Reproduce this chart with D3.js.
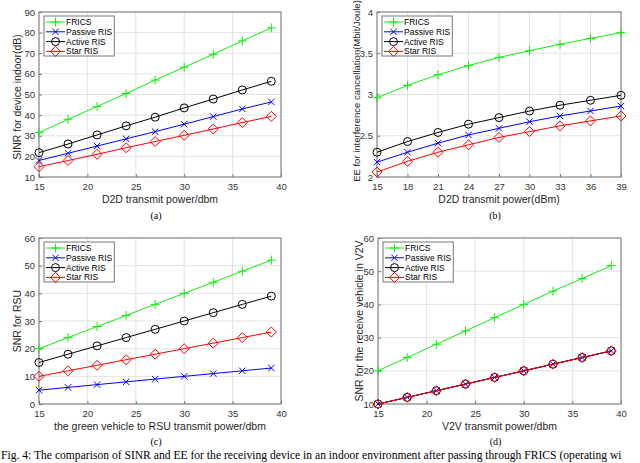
<!DOCTYPE html>
<html lang="en">
<head>
<meta charset="utf-8">
<title>FRICS comparison</title>
<style>
  body { margin: 0; background: #fff; }
  svg { display: block; font-family: "Liberation Sans", Arial, sans-serif; }
  .tick text { font-size: 9.5px; fill: #333; }
  .grid line { stroke: #e3e3e3; stroke-width: 1; }
  .axlabel { font-size: 10.5px; fill: #262626; }
  .sub { font-family: "Liberation Serif", "Times New Roman", serif; font-size: 10px; }
  .caption { font-family: "Liberation Serif", "Times New Roman", serif; font-size: 11.6px; }
  .legend text { font-size: 8.5px; fill: #000; }
</style>
</head>
<body>
<div id="chart"></div>
<script src="https://d3js.org/d3.v7.min.js"></script>
<script>
var seriesNames = ["FRICS", "Passive RIS", "Active RIS", "Star RIS"];
var seriesColors = ["#11ee11", "#0000ff", "#000000", "#ff0000"];
var seriesMarkers = ["plus", "cross", "circle", "diamond"];

// x values (same in all four panels)
var xPower = [15, 18, 21, 24, 27, 30, 33, 36, 39];

// (a) SINR indoor
var aFrics   = [31.5, 38, 44.2, 50.5, 57, 63.2, 69.5, 76, 82.3];
var aPassive = [18, 21.5, 25, 28.5, 32, 35.6, 39.3, 43, 46.4];
var aActive  = [21.8, 26, 30.4, 34.8, 39, 43.5, 47.8, 52.2, 56.4];
var aStar    = [15, 18, 21, 24.2, 27.2, 30.2, 33.3, 36.4, 39.4];

// (b) EE
var bFrics   = [2.96, 3.11, 3.24, 3.35, 3.45, 3.53, 3.61, 3.68, 3.75];
var bPassive = [2.18, 2.30, 2.41, 2.51, 2.59, 2.67, 2.74, 2.80, 2.86];
var bActive  = [2.30, 2.43, 2.54, 2.64, 2.72, 2.80, 2.87, 2.93, 2.99];
var bStar    = [2.06, 2.19, 2.30, 2.39, 2.48, 2.55, 2.62, 2.68, 2.74];

// (c) SNR for RSU
var cFrics   = [20, 24, 28, 32, 36, 40, 44, 48, 52];
var cPassive = [5, 6, 7, 8, 9, 10, 11, 12, 13];
var cActive  = [15, 18, 21, 24, 27, 30, 33, 36, 39];
var cStar    = [10, 12, 14, 16, 18, 20, 22, 24, 26];

// (d) SNR in V2V
var dFrics   = [20, 24, 28, 32, 36, 40, 44, 47.8, 51.7];
var dPassive = [10, 12, 14, 16, 18, 20, 22, 24, 26];
var dActive  = [10, 12, 14, 16, 18, 20, 22, 24, 26];
var dStar    = [10, 12, 14, 16, 18, 20, 22, 24, 26];

var xTicksA = [15, 20, 25, 30, 35, 40];
var xTicksB = [15, 18, 21, 24, 27, 30, 33, 36, 39];
var yTicksA = [10, 20, 30, 40, 50, 60, 70, 80, 90];
var yTicksB = [2, 2.5, 3, 3.5, 4];
var yTicksC = [0, 10, 20, 30, 40, 50, 60];
var yTicksD = [10, 20, 30, 40, 50, 60];

var W = 640, H = 463;
var svg = d3.select("#chart").append("svg").attr("width", W).attr("height", H);

var panels = [
  { box: [39, 12, 281, 177], xDom: [15, 40], yDom: [10, 90], xt: xTicksA, yt: yTicksA,
    data: [aFrics, aPassive, aActive, aStar], ylab: "SINR for device indoor(dB)",
    xlab: "D2D transmit power/dbm", ylx: 17, yly: 97, ylf: 10.5, sub: "(a)", subY: 219 },
  { box: [377, 12, 621, 177], xDom: [15, 39], yDom: [2, 4], xt: xTicksB, yt: yTicksB,
    data: [bFrics, bPassive, bActive, bStar], ylab: "EE for interference cancellation(Mbit/Joule)",
    xlab: "D2D transmit power(dBm)", ylx: 357, yly: 91, ylf: 9.5, sub: "(b)", subY: 219 },
  { box: [39, 238, 281, 404], xDom: [15, 40], yDom: [0, 60], xt: xTicksA, yt: yTicksC,
    data: [cFrics, cPassive, cActive, cStar], ylab: "SNR for RSU",
    xlab: "the green vehicle to RSU transmit power/dbm", ylx: 17, yly: 321, ylf: 10.5, sub: "(c)", subY: 445 },
  { box: [378, 238, 621, 404], xDom: [15, 40], yDom: [10, 60], xt: xTicksA, yt: yTicksD,
    data: [dFrics, dPassive, dActive, dStar], ylab: "SNR for the receive vehicle in V2V",
    xlab: "V2V transmit power/dbm", ylx: 359, yly: 321, ylf: 10.5, sub: "(d)", subY: 445 }
];

function marker(g, type, color) {
  if (type === "plus") {
    g.append("path").attr("d", "M-4.5,0H4.5M0,-4.5V4.5").attr("stroke", color).attr("fill", "none");
  } else if (type === "cross") {
    g.append("path").attr("d", "M-3.2,-3.2L3.2,3.2M-3.2,3.2L3.2,-3.2").attr("stroke", color).attr("fill", "none");
  } else if (type === "circle") {
    g.append("circle").attr("r", 4).attr("stroke", color).attr("fill", "none");
  } else {
    g.append("path").attr("d", "M0,-5L5,0L0,5L-5,0Z").attr("stroke", color).attr("fill", "none");
  }
}

panels.forEach(function(p) {
  var x = d3.scaleLinear().domain(p.xDom).range([p.box[0], p.box[2]]);
  var y = d3.scaleLinear().domain(p.yDom).range([p.box[3], p.box[1]]);
  var g = svg.append("g");

  // grid
  var grid = g.append("g").attr("class", "grid");
  grid.selectAll(".gx").data(p.xt).enter().append("line")
    .attr("x1", x).attr("x2", x).attr("y1", p.box[1]).attr("y2", p.box[3]);
  grid.selectAll(".gy").data(p.yt).enter().append("line")
    .attr("y1", y).attr("y2", y).attr("x1", p.box[0]).attr("x2", p.box[2]);

  // axes
  g.append("g").attr("transform", "translate(0," + p.box[3] + ")")
    .call(d3.axisBottom(x).tickValues(p.xt).tickSizeInner(-3).tickSizeOuter(0).tickPadding(6).tickFormat(d3.format("")))
    .call(function(a) { a.select(".domain").remove(); a.selectAll("line").attr("stroke", "#777"); });
  g.append("g").attr("transform", "translate(" + p.box[0] + ",0)")
    .call(d3.axisLeft(y).tickValues(p.yt).tickSizeInner(-3).tickSizeOuter(0).tickPadding(4).tickFormat(d3.format("")))
    .call(function(a) { a.select(".domain").remove(); a.selectAll("line").attr("stroke", "#777"); });
  g.append("rect").attr("x", p.box[0]).attr("y", p.box[1])
    .attr("width", p.box[2] - p.box[0]).attr("height", p.box[3] - p.box[1])
    .attr("fill", "none").attr("stroke", "#777").attr("stroke-width", 1);

  // series
  var line = d3.line().x(function(d, i) { return x(xPower[i]); }).y(function(d) { return y(d); });
  p.data.forEach(function(vals, k) {
    g.append("path").datum(vals).attr("d", line)
      .attr("fill", "none").attr("stroke", seriesColors[k]).attr("stroke-width", 1);
    vals.forEach(function(v, i) {
      var mg = g.append("g").attr("transform", "translate(" + x(xPower[i]) + "," + y(v) + ")");
      marker(mg, seriesMarkers[k], seriesColors[k]);
    });
  });

  // labels
  g.append("text").attr("class", "axlabel").attr("text-anchor", "middle")
    .attr("x", (p.box[0] + p.box[2]) / 2).attr("y", p.box[3] + 26).text(p.xlab);
  g.append("text").attr("class", "axlabel").attr("text-anchor", "middle")
    .style("font-size", p.ylf + "px")
    .attr("transform", "translate(" + p.ylx + "," + p.yly + ") rotate(-90)")
    .attr("dy", "0.35em").text(p.ylab);
  g.append("text").attr("class", "sub").attr("text-anchor", "middle")
    .attr("x", (p.box[0] + p.box[2]) / 2 - 4).attr("y", p.subY).text(p.sub);

  // legend
  var lg = g.append("g").attr("class", "legend")
    .attr("transform", "translate(" + (p.box[0] + 5) + "," + (p.box[1] + 4) + ")");
  var lrect = lg.append("rect").attr("fill", "#fff").attr("stroke", "#777").attr("height", 40);
  var maxW = 0;
  seriesNames.forEach(function(name, k) {
    var row = lg.append("g").attr("transform", "translate(0," + (6 + k * 9.8) + ")");
    row.append("line").attr("x1", 2).attr("x2", 21).attr("stroke", seriesColors[k]);
    var mg = row.append("g").attr("transform", "translate(11.5,0)");
    marker(mg, seriesMarkers[k], seriesColors[k]);
    var t = row.append("text").attr("x", 22).attr("dy", "0.35em").text(name);
    maxW = Math.max(maxW, t.node().getComputedTextLength());
  });
  lrect.attr("width", 22 + maxW + 2);
});

// caption: the reference page shows it running off the right edge at "(operating wi"
svg.append("text").attr("class", "caption").attr("x", 1).attr("y", 459)
  .text("Fig. 4: The comparison of SINR and EE for the receiving device in an indoor environment after passing through FRICS (operating wi");
</script>
</body>
</html>
